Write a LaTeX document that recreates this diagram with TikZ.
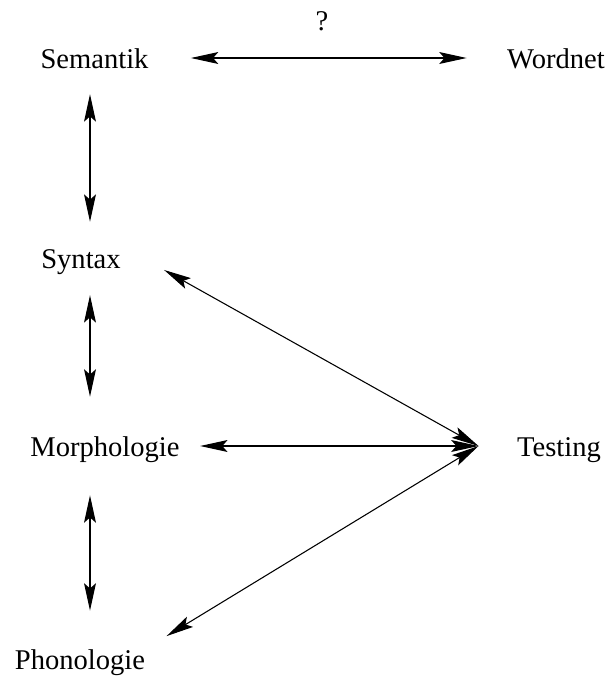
\documentclass[tikz,border=0pt]{standalone}
\usepackage{fontspec}
\setmainfont{Liberation Serif}
\usetikzlibrary{arrows.meta}

\begin{document}
\begin{tikzpicture}[x=0.42pt,y=-0.42pt,line width=0.45pt,
	>={Stealth[length=11.5pt,width=5pt,inset=2.2pt]},
	lvl/.style={inner sep=0pt,anchor=base,text height=0.9em,text depth=0.06em,font=\fontsize{12}{14}\selectfont}]
	\useasboundingbox (0,0) rectangle (612,682);
	%LEVELS
	\node[lvl] (sem) at (94.5,68) {Semantik};
	\node[lvl] (syn) at (81,268) {Syntax};
	\node[lvl] (mor) at (105,456) {Morphologie};
	\node[lvl] (pho) at (80,669) {Phonologie};
	%RIGHT SIDE
	\node[lvl] (word) at (556,68) {Wordnet};
	\node[lvl] (test) at (559,456) {Testing};
	\node[lvl] (qm) at (322,30) {?};
	\coordinate (col) at (90,0); %vertical arrows
	\coordinate (hub) at ([xshift=-16pt]test.west);

	%ARROWS
	\draw[<->,shorten <=17.6pt,shorten >=16.8pt] (sem.east) -- (word.west);
	\draw[<->,shorten <=10.2pt,shorten >=10.2pt] (sem.south -| col) -- (syn.north -| col);
	\draw[<->,shorten <=10.6pt,shorten >=15.7pt] (syn.south -| col) -- (mor.north -| col);
	\draw[<->,shorten <=15.7pt,shorten >=15.3pt] (mor.south -| col) -- (pho.north -| col);
	%
	\draw[<->,shorten <=8.4pt] (mor.east) -- (hub);
	\draw[<->] ([xshift=18pt]syn.south east) -- (hub);
	\draw[<->] ([xshift=8.8pt,yshift=4.6pt]pho.north east) -- (hub);
\end{tikzpicture}
\end{document}
